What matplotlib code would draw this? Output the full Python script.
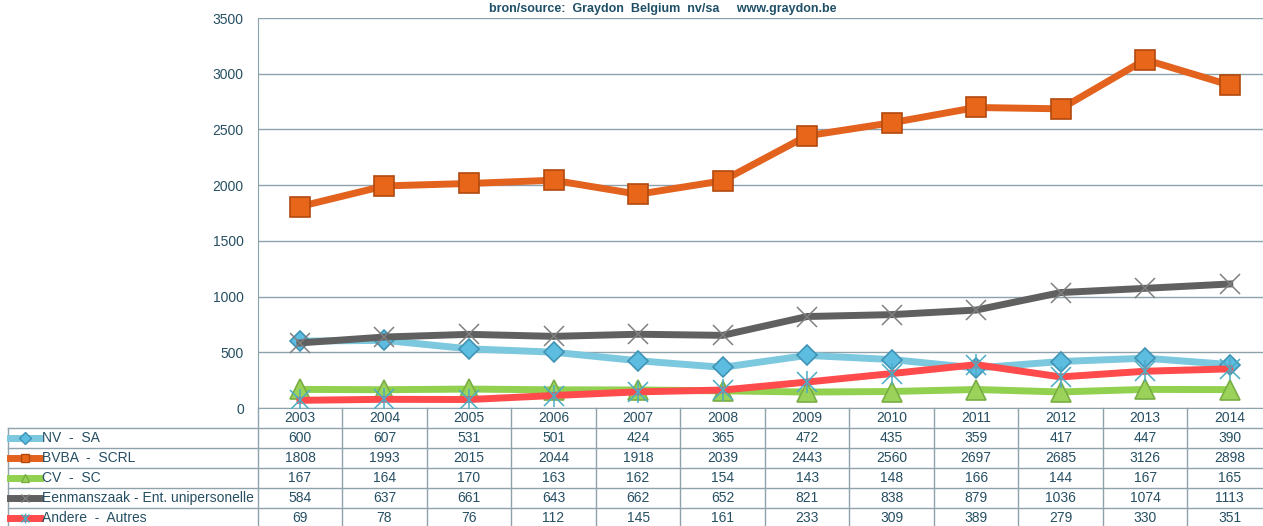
import numpy as np
import matplotlib
matplotlib.use("Agg")
import matplotlib.pyplot as plt

plt.rcParams['font.family'] = ['Liberation Sans', 'DejaVu Sans']

years = ['2003', '2004', '2005', '2006', '2007', '2008',
         '2009', '2010', '2011', '2012', '2013', '2014']
series_names = ['NV  -  SA', 'BVBA  -  SCRL', 'CV  -  SC',
                'Eenmanszaak - Ent. unipersonelle', 'Andere  -  Autres']
nv = [600, 607, 531, 501, 424, 365, 472, 435, 359, 417, 447, 390]
bvba = [1808, 1993, 2015, 2044, 1918, 2039, 2443, 2560, 2697, 2685, 3126, 2898]
cv = [167, 164, 170, 163, 162, 154, 143, 148, 166, 144, 167, 165]
eenmanszaak = [584, 637, 661, 643, 662, 652, 821, 838, 879, 1036, 1074, 1113]
andere = [69, 78, 76, 112, 145, 161, 233, 309, 389, 279, 330, 351]
yticks = [0, 500, 1000, 1500, 2000, 2500, 3000, 3500]

# style per series: line colour, marker, marker face, marker edge, marker size
styles = [
    dict(color='#7CC8DE', marker='D', mfc='#5DBDE0', mec='#3F93B5', ms=10),
    dict(color='#E2621E', marker='s', mfc='#E8661A', mec='#B04A0E', ms=14),
    dict(color='#92D050', marker='^', mfc='#9BD35A', mec='#79AE44', ms=14),
    dict(color='#606060', marker='x', mfc='none', mec='#808080', ms=15),
    dict(color='#FF4B4B', marker='x', mfc='none', mec='#4BACC6', ms=14),
]
values = [nv, bvba, cv, eenmanszaak, andere]

W, H = 1263, 526
text_col = '#264F63'
grid_col = '#8DA2AB'

fig = plt.figure(figsize=(W / 100, H / 100), dpi=100)
left_px, right_px, top_px, bot_px = 257.7, 1272.0, 18.0, 408.0
ax = fig.add_axes([left_px / W, 1 - bot_px / H,
                   (right_px - left_px) / W, (bot_px - top_px) / H])

x = np.arange(len(years))
for vals, st in zip(values, styles):
    ax.plot(x, vals, color=st['color'], lw=5, solid_joinstyle='round',
            marker=st['marker'], ms=st['ms'], mfc=st['mfc'], mec=st['mec'],
            mew=1.2 if st['marker'] != 'x' else 1.1, zorder=3)
# asterisk for Andere: add the vertical stroke
ax.plot(x, andere, ls='none', marker='|', ms=16, mec='#4BACC6', mew=1.1, zorder=4)

ax.set_xlim(-0.5, len(years) - 0.5)
ax.set_ylim(0, 3500)
ax.set_yticks(yticks)
ax.set_xticks([])
ax.tick_params(axis='y', length=0, pad=10, labelsize=10, labelcolor=text_col)
ax.yaxis.grid(True, color=grid_col, lw=1)
ax.set_axisbelow(True)
for s in ['top', 'right']:
    ax.spines[s].set_visible(False)
ax.spines['left'].set_color(grid_col)
ax.spines['bottom'].set_color(grid_col)

fig.text(489 / W, 1 - 9 / H, 'bron/source:  Graydon  Belgium  nv/sa     www.graydon.be',
         fontsize=9, fontweight='bold', color='#1F5068', ha='left', va='center')

# data table drawn in pixel coordinates
tab = fig.add_axes([0, 0, 1, 1])
tab.set_xlim(0, W)
tab.set_ylim(H, 0)
tab.axis('off')

cell_w = (right_px - left_px) / len(years)
row_h = 20.0
header_top = bot_px
label_left = 8.0

# vertical lines
for i in range(len(years) + 1):
    xb = left_px + i * cell_w
    tab.plot([xb, xb], [header_top, H + 5], color=grid_col, lw=1)
tab.plot([label_left, label_left], [header_top + row_h, H + 5], color=grid_col, lw=1)
# horizontal lines
for r in range(1, len(values) + 1):
    yb = header_top + r * row_h
    tab.plot([label_left, right_px], [yb, yb], color=grid_col, lw=1)

for i, yr in enumerate(years):
    tab.text(left_px + (i + 0.5) * cell_w, header_top + row_h / 2, yr,
             ha='center', va='center', fontsize=10, color=text_col)

for r, (name, vals, st) in enumerate(zip(series_names, values, styles)):
    yc = header_top + (r + 1.5) * row_h
    tab.plot([10, 40], [yc, yc], color=st['color'], lw=5)
    tab.plot([25], [yc], marker=st['marker'], ms=6, mfc=st['mfc'], mec=st['mec'], mew=1)
    if r == 4:
        tab.plot([25], [yc], marker='|', ms=7, mec='#4BACC6', mew=1)
    tab.text(42, yc, name, ha='left', va='center', fontsize=10, color=text_col)
    for i, v in enumerate(vals):
        tab.text(left_px + (i + 0.5) * cell_w, yc, str(v),
                 ha='center', va='center', fontsize=10, color=text_col)

fig.savefig('out.png', dpi=100)
